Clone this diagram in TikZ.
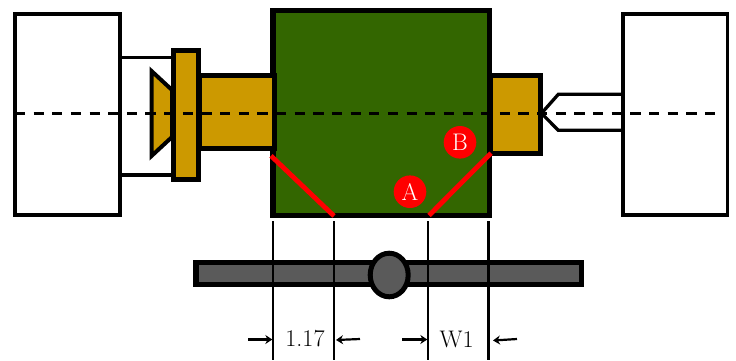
\documentclass[tikz,border=0pt]{standalone}
\usetikzlibrary{arrows.meta,shapes.geometric}
\definecolor{brass}{HTML}{CC9900}
\definecolor{board}{HTML}{336600}
\definecolor{slate}{HTML}{5A5A5A}
\tikzset{
  housing/.style={draw=black,line width=3.8pt,fill=white},
  quill/.style={draw=black,line width=3.5pt},
  part/.style={draw=black,line width=5pt,fill=brass,miter limit=20},
  centerline/.style={draw=black,line width=2.8pt,dash pattern=on 10.2pt off 8.45pt},
  chamfer/.style={draw=red,line width=4.8pt},
  badge/.style={circle,fill=red,text=white,inner sep=0pt,minimum size=32.6pt,font=\fontsize{24}{24}\selectfont},
  dimtext/.style={inner sep=0pt,text=black,font=\fontsize{24}{24}\selectfont},
  dimline/.style={draw=black,line width=2.3pt},
  dimarrow/.style={draw=black,line width=2.2pt,-{Stealth[length=7pt,width=9pt]}}
}
\begin{document}
\begin{tikzpicture}[x=1pt,y=-1pt]
\useasboundingbox (0,0) rectangle (736,360);
% housings
\draw[housing] (15.3,13.6) rectangle (119.8,215.2);
\draw[housing] (622.9,13.6) rectangle (727.4,215.2);
% left quill
\coordinate (qa) at (120,57.5);
\coordinate (qb) at (175,57.5);
\coordinate (qc) at (120,175);
\coordinate (qd) at (175,175);
\draw[quill] (qa) -- (qb);
\draw[quill] (qc) -- (qd);
% cone and flange
\draw[draw=black,line width=4pt,fill=brass,miter limit=20] (172,90) -- (151.5,71) -- (151.5,156) -- (172,137) -- cycle;
\draw[part] (173.5,50.5) rectangle (198.8,179.8);
% board
\draw[draw=black,line width=5.2pt,fill=board] (273,10.8) rectangle (489.7,215.6);
% left cylinder
\draw[part] (199,75.2) rectangle (274,148.2);
% right cylinder
\draw[part] (490,75.2) rectangle (540.2,153);
% tail centre
\coordinate (ta) at (622,94.3);
\coordinate (tb) at (558.3,94.3);
\coordinate (tc) at (541.5,113.3);
\coordinate (td) at (558.3,130.3);
\coordinate (te) at (622,130.3);
\draw[draw=black,line width=3.3pt] (ta) -- (tb) -- (tc) -- (td) -- (te);
% axis
\coordinate (axl) at (14.9,113.4);
\coordinate (axr) at (716,113.4);
\draw[centerline] (axl) -- (axr);
% chamfers
\draw[chamfer] (271,155.8) -- (334,216);
\draw[chamfer] (429,215.4) -- (491,153.2);
% badges
\node[badge] (A) at (410,191.7) {A};
\node[badge] (B) at (460,142.3) {B};
% bar
\draw[draw=black,line width=5.3pt,fill=slate] (196,262.8) rectangle (581.3,284.8);
\node[draw=black,line width=5pt,fill=slate,ellipse,inner sep=0pt,minimum width=38pt,minimum height=43.6pt,outer sep=0pt] (hub) at (389.2,275) {};
% dimension lines
\foreach \n/\x in {a/273,b/334.3,c/428,d/488.5}{
  \coordinate (\n top) at (\x,221);
  \coordinate (\n bot) at (\x,360);
  \draw[dimline] (\n top) -- (\n bot);
}
\coordinate (s1) at (248,339.5); \coordinate (e1) at (272.3,339.5);
\coordinate (s2) at (360,339); \coordinate (e2) at (336,340);
\coordinate (s3) at (402,339.5); \coordinate (e3) at (427.3,339.5);
\coordinate (s4) at (517,339); \coordinate (e4) at (493,340.5);
\draw[dimarrow] (s1) -- (e1);
\draw[dimarrow] (s2) -- (e2);
\draw[dimarrow] (s3) -- (e3);
\draw[dimarrow] (s4) -- (e4);
\node[dimtext] (w0) at (305,339) {1.17};
\node[dimtext] (w1) at (456.7,339) {W1};
\end{tikzpicture}
\end{document}
